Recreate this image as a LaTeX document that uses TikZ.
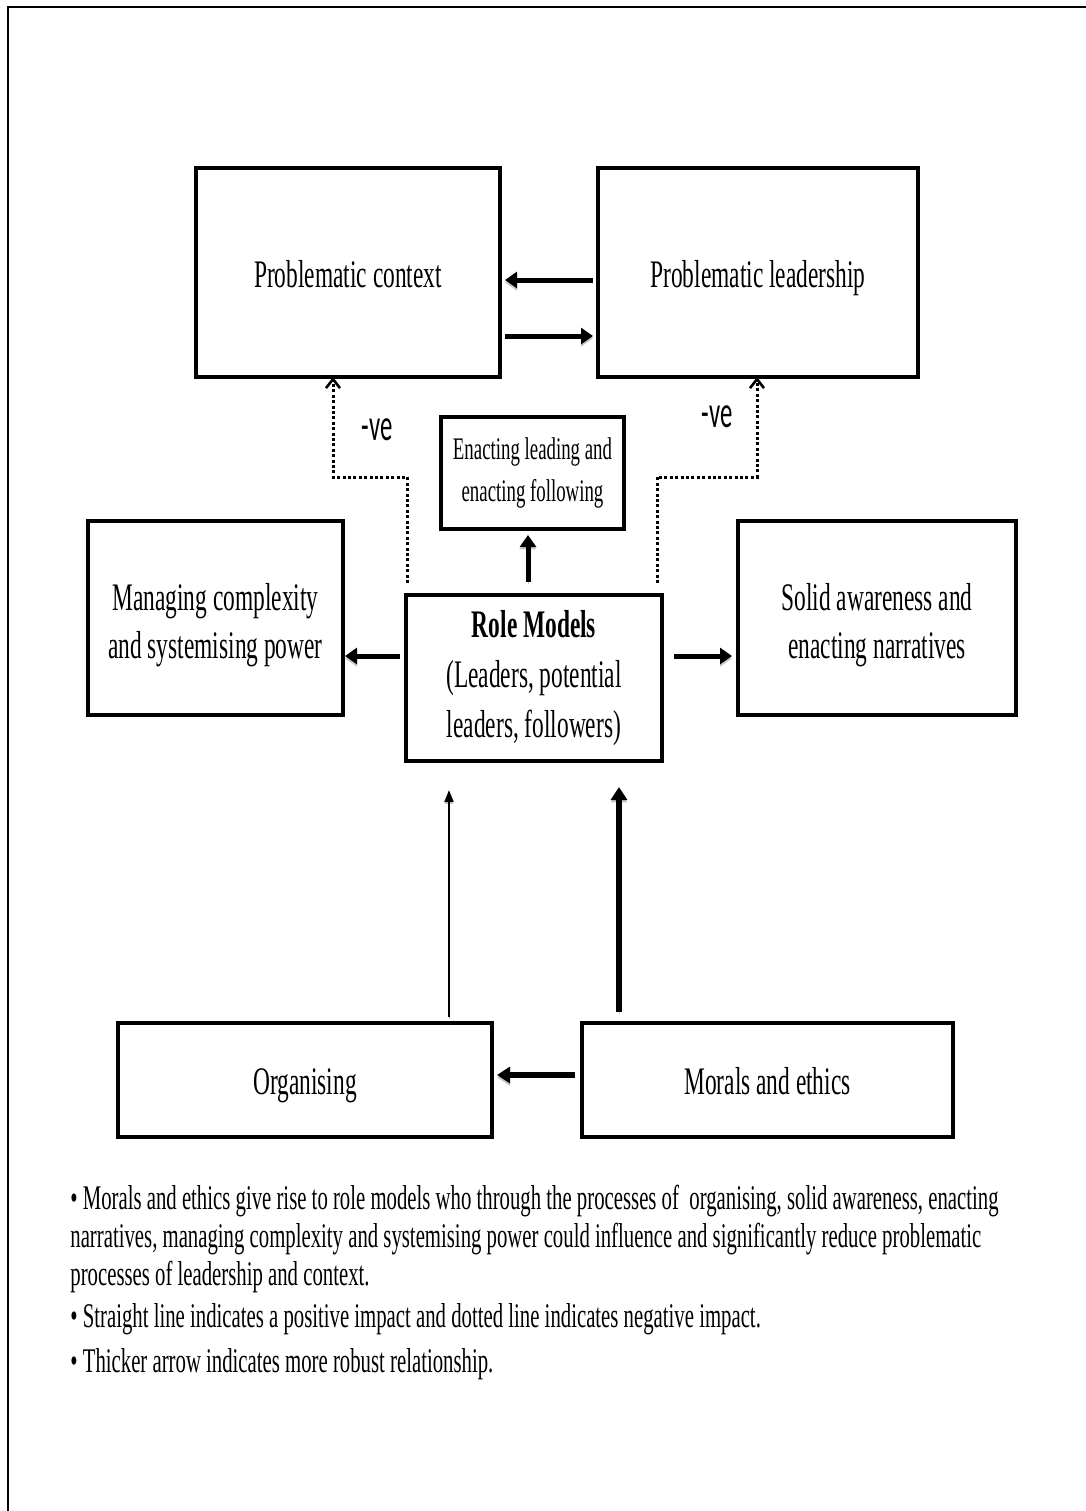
\documentclass[tikz,border=0pt]{standalone}
\usepackage{fontspec}
\setmainfont{Liberation Serif}[FakeStretch=0.6]
\newfontfamily\vefont{Carlito}[FakeStretch=0.55]
\usetikzlibrary{arrows.meta,calc}

% two centred lines set a little lower than the box centre
\newcommand{\twolines}[2]{\raisebox{-3.5pt}[\height][\depth]{\begin{tabular}{@{}c@{}}#1\\#2\end{tabular}}}

\begin{document}
\begin{tikzpicture}[x=0.5pt,y=-0.5pt,
  box/.style={draw, line width=1.6pt, rectangle, outer sep=0pt, inner sep=0pt,
    align=center, font=\fontsize{19.5}{24}\selectfont},
  oneline/.style={box, text height=14.5pt, text depth=0pt},
  smallbox/.style={box, font=\fontsize{15.7}{21}\selectfont},
  shadowed/.style={preaction={draw=black!22, transform canvas={yshift=-1.2pt}}},
  fat/.style={shadowed, line width=2.5pt, -{Triangle[length=6pt,width=8pt]}},
  fatter/.style={shadowed, line width=3pt, -{Triangle[length=6.5pt,width=8pt]}},
  slim/.style={shadowed, line width=1pt, -{Triangle[length=6pt,width=4.5pt]}},
  neg/.style={line width=1.5pt, dash pattern=on 1.5pt off 1.2pt,
    -{Straight Barb[length=4.5pt,width=7pt,line width=1.3pt]}},
  velabel/.style={font=\vefont\fontsize{22.5}{27}\selectfont, inner sep=0pt},
  note/.style={font=\fontsize{17.3}{19}\selectfont, inner sep=0pt, anchor=base west}]

\useasboundingbox (0,0) rectangle (1086,1511);

% page frame (open at right and bottom)
\draw[line width=1pt] (8,1530) -- (8,7) -- (1100,7);

% boxes
\node[oneline, minimum width=152pt, minimum height=104.5pt] (pc) at (348,272.5) {Problematic context};
\node[oneline, minimum width=160pt, minimum height=104.5pt] (pl) at (758,272.5) {Problematic leadership};
\node[smallbox, minimum width=91.5pt, minimum height=56pt] (en) at (532.5,473) {Enacting leading and\\enacting following};
\node[box, minimum width=128pt, minimum height=83pt, font=\fontsize{19.5}{25}\selectfont] (rm) at (534,678)
  {\textbf{Role Models}\\(Leaders, potential\\leaders, followers)};
\node[box, minimum width=127.5pt, minimum height=97pt] (mc) at (215.5,618)
  {\twolines{Managing complexity}{and systemising power}};
\node[box, minimum width=139pt, minimum height=97pt] (sa) at (877,618)
  {\twolines{Solid awareness and}{enacting narratives}};
\node[oneline, minimum width=187pt, minimum height=57pt] (org) at (305,1080) {Organising};
\node[oneline, minimum width=185.5pt, minimum height=57pt] (me) at (767.5,1080) {Morals and ethics};

% two-way link between the problematic boxes
\draw[fat] ($(pl.west)+(-5,7.5)$) -- ($(pc.east)+(5,7.5)$);
\draw[fat] ($(pc.east)+(5,63.5)$) -- ($(pl.west)+(-5,63.5)$);

% role models outwards
\draw[fat] ($(rm.north)+(-6,-13)$) -- ($(en.south)+(-4.5,6)$);
\draw[fat] ($(rm.west)+(-6,-22)$) -- ($(mc.east)+(2,38)$);
\draw[fat] ($(rm.east)+(12,-22)$) -- ($(sa.west)+(-6,38)$);

% from the bottom row
\draw[slim] ($(org.north)+(144,-6)$) -- ($(rm.south)+(-85,29)$);
\draw[fatter] ($(me.north)+(-148.5,-11)$) -- ($(rm.south)+(85,26)$);
\draw[fatter] ($(me.west)+(-7,-5)$) -- ($(org.east)+(5,-5)$);

% negative influences
\coordinate (kl) at ($(pc.south)+(-15,100)$);
\coordinate (kr) at ($(pl.south)+(-1,100)$);
\draw[neg] ($(rm.north west)+(1,-12)$) |- (kl) -- (kl |- pc.south);
\draw[neg] ($(rm.north east)+(-5,-12)$) |- (kr) -- (kr |- pl.south);
\node[velabel] (vl) at (377,430) {-ve};
\node[velabel] (vr) at (717,417) {-ve};

% notes
\node[note] (t1) at (70,1209) {• Morals and ethics give rise to role models who through the processes of\ \ organising, solid awareness, enacting};
\node[note] (t2) at (70,1247) {narratives, managing complexity and systemising power could influence and significantly reduce problematic};
\node[note] (t3) at (70,1285) {processes of leadership and context.};
\node[note] (t4) at (70,1327) {• Straight line indicates a positive impact and dotted line indicates negative impact.};
\node[note] (t5) at (70,1372) {• Thicker arrow indicates more robust relationship.};
\end{tikzpicture}
\end{document}
